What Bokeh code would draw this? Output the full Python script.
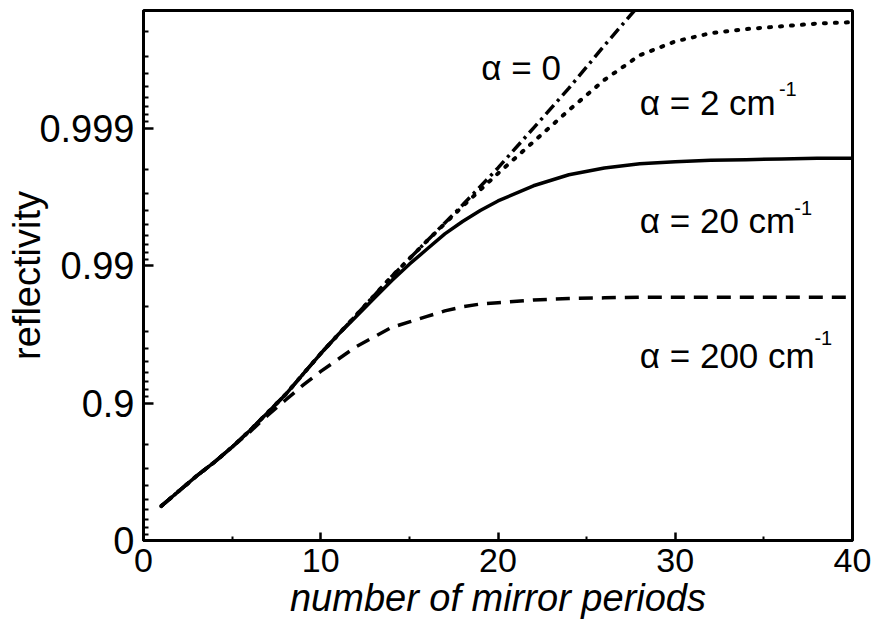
import math
import numpy as np
from bokeh.plotting import figure
from bokeh.models import Range1d, FixedTicker, Label
from bokeh.embed import file_html
from bokeh.resources import INLINE

# Vertical data are in "decades": -log10(1 - reflectivity)
# (0 -> R=0, 1 -> R=0.9, 2 -> R=0.99, 3 -> R=0.999)

periods_a0 = [1, 2, 3, 4, 5, 6, 7, 8, 9, 10, 11, 12, 13, 14, 15, 16, 18, 20, 22, 24, 26, 28]
decades_a0 = [0.25, 0.36, 0.47, 0.57, 0.68, 0.80, 0.93, 1.06, 1.21, 1.36, 1.50, 1.64, 1.78, 1.92,
              2.05, 2.18, 2.44, 2.71, 3.00, 3.29, 3.60, 3.90]

periods_a2 = [1, 2, 3, 4, 5, 6, 7, 8, 9, 10, 11, 12, 13, 14, 15, 16, 18, 20, 22, 24, 26, 28,
              30, 32, 34, 36, 38, 40]
decades_a2 = [0.25, 0.36, 0.47, 0.57, 0.68, 0.80, 0.93, 1.06, 1.21, 1.36, 1.50, 1.64, 1.78, 1.92,
              2.05, 2.18, 2.43, 2.67, 2.90, 3.13, 3.35, 3.53, 3.63, 3.69, 3.72, 3.74, 3.76, 3.77]

periods_a20 = [1, 2, 3, 4, 5, 6, 7, 8, 9, 10, 11, 12, 13, 14, 15, 16, 17, 18, 19, 20, 22, 24,
               26, 28, 30, 32, 34, 36, 38, 40]
decades_a20 = [0.25, 0.36, 0.47, 0.57, 0.68, 0.80, 0.93, 1.06, 1.21, 1.36, 1.50, 1.63, 1.76, 1.89,
               2.01, 2.12, 2.23, 2.32, 2.40, 2.47, 2.58, 2.66, 2.71, 2.74, 2.755, 2.765, 2.77,
               2.775, 2.78, 2.78]

periods_a200 = [1, 2, 3, 4, 5, 6, 7, 8, 9, 10, 11, 12, 13, 14, 15, 16, 17, 18, 19, 20, 22, 24,
                26, 28, 30, 35, 40]
decades_a200 = [0.25, 0.36, 0.47, 0.57, 0.68, 0.79, 0.91, 1.02, 1.13, 1.23, 1.32, 1.41, 1.48,
                1.55, 1.59, 1.63, 1.67, 1.70, 1.72, 1.73, 1.75, 1.76, 1.765, 1.77, 1.77, 1.77, 1.77]

x_ticks = [0, 10, 20, 30, 40]
x_minor_ticks = [5, 15, 25, 35]
y_ticks = [0, 1, 2, 3]
y_tick_labels = ["0", "0.9", "0.99", "0.999"]

FONT = "Liberation Sans"

p = figure(width=872, height=632, output_backend="svg", toolbar_location=None,
           x_range=Range1d(0, 40), y_range=Range1d(0, 3.855),
           min_border_left=143, min_border_right=20, min_border_top=10, min_border_bottom=92)
p.background_fill_color = "white"
p.border_fill_color = "white"
p.grid.visible = False
p.outline_line_color = "black"
p.outline_line_width = 3

# minor ticks of a log scale of (1 - R): m * 10^-k
y_minor = []
for k in range(0, 4):
    for m in range(2, 10):
        v = k + 1 - math.log10(m)
        if v < 3.855:
            y_minor.append(v)

p.xaxis.ticker = FixedTicker(ticks=x_ticks, minor_ticks=x_minor_ticks)
p.yaxis.ticker = FixedTicker(ticks=y_ticks, minor_ticks=y_minor)
p.yaxis.major_label_overrides = {t: lab for t, lab in zip(y_ticks, y_tick_labels)}

for ax in (p.xaxis[0], p.yaxis[0]):
    ax.axis_line_color = "black"
    ax.axis_line_width = 3
    ax.major_tick_line_color = "black"
    ax.minor_tick_line_color = "black"
    ax.major_tick_line_width = 2.5
    ax.minor_tick_line_width = 2
    ax.major_tick_out = 0
    ax.minor_tick_out = 0
    ax.major_label_text_font = FONT
    ax.major_label_text_color = "black"
    ax.axis_label_text_font = FONT
    ax.axis_label_text_color = "black"

p.xaxis.major_tick_in = 8
p.xaxis.minor_tick_in = 4
p.yaxis.major_tick_in = 10
p.yaxis.minor_tick_in = 5
p.xaxis.major_label_text_font_size = "34px"
p.yaxis.major_label_text_font_size = "38px"
p.xaxis.major_label_standoff = 8
p.yaxis.major_label_standoff = 9

p.xaxis.axis_label = "number of mirror periods"
p.xaxis.axis_label_text_font_size = "38px"
p.xaxis.axis_label_text_font_style = "italic"
p.xaxis.axis_label_standoff = 2

p.yaxis.axis_label = "reflectivity"
p.yaxis.axis_label_text_font_size = "38px"
p.yaxis.axis_label_text_font_style = "normal"
p.yaxis.axis_label_standoff = -12

lw = 3.5
p.line(periods_a0, decades_a0, line_color="black", line_width=lw, line_dash="12 5 3 5")
p.line(periods_a2, decades_a2, line_color="black", line_width=4, line_dash="2 9",
       line_cap="round")
p.line(periods_a20, decades_a20, line_color="black", line_width=lw)
p.line(periods_a200, decades_a200, line_color="black", line_width=lw, line_dash="14 9")

labels = [
    (19.06, 3.44, "\u03b1 = 0", None),
    (28.0, 3.185, "\u03b1 = 2 cm", (35.85, 3.287)),
    (28.0, 2.327, "\u03b1 = 20 cm", (36.72, 2.42)),
    (28.0, 1.345, "\u03b1 = 200 cm", (37.85, 1.476)),
]
for x, y, t, sup in labels:
    p.add_layout(Label(x=x, y=y, text=t, text_align="left", text_baseline="alphabetic",
                       text_font=FONT, text_font_size="35px", text_color="black"))
    if sup is not None:
        p.add_layout(Label(x=sup[0], y=sup[1], text="-1", text_align="left",
                           text_baseline="alphabetic", text_font=FONT,
                           text_font_size="20px", text_color="black"))

open("out.html", "w").write(file_html(p, INLINE))
